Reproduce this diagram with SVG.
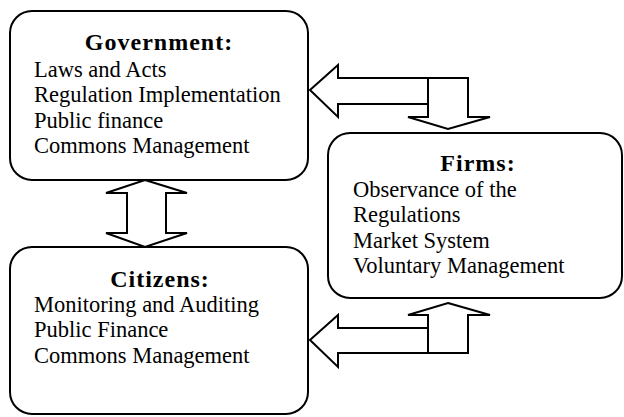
<svg xmlns="http://www.w3.org/2000/svg" width="624" height="417" viewBox="0 0 624 417">
  <style>
    .box { fill: #ffffff; stroke: #000000; stroke-width: 2; }
    .arrow { fill: #ffffff; stroke: #000000; stroke-width: 2; stroke-linejoin: miter; }
    .title { font-family: "Liberation Serif", "Times New Roman", serif; font-size: 24px; font-weight: bold; letter-spacing: 1px; text-anchor: middle; fill: #000000; }
    .item { font-family: "Liberation Serif", "Times New Roman", serif; font-size: 22.5px; fill: #000000; }
  </style>
  <rect width="624" height="417" fill="#ffffff"/>

  <!-- block arrows linking the three actors -->
  <g id="connectors">
    <!-- Government <-> Citizens -->
    <path class="arrow" d="M145,180 L187,193 L166,193 L166,233 L187,233 L145,247 L106,233 L127,233 L127,193 L106,193 Z"/>
    <!-- Firms -> Government (left) and Government -> Firms (down) -->
    <path class="arrow" d="M310,90 L338,65 L338,78 L428,78 L428,104 L338,104 L338,117 Z"/>
    <path class="arrow" d="M428,78 L468,78 L468,117 L490,117 L448,129 L408,117 L428,117 Z"/>
    <!-- Firms -> Citizens (left) and Citizens -> Firms (up) -->
    <path class="arrow" d="M310,340 L338,315 L338,328 L428,328 L428,353 L338,353 L338,367 Z"/>
    <path class="arrow" d="M448,303 L490,315 L468,315 L468,353 L428,353 L428,315 L408,315 Z"/>
  </g>

  <g id="government">
    <rect class="box" x="10" y="11" width="298" height="169" rx="22" ry="22"/>
    <text class="title" x="159" y="50">Government:</text>
    <text class="item" x="34" y="77">Laws and Acts</text>
    <text class="item" x="34" y="102">Regulation Implementation</text>
    <text class="item" x="34" y="128">Public finance</text>
    <text class="item" x="34" y="153">Commons Management</text>
  </g>

  <g id="citizens">
    <rect class="box" x="10" y="247" width="298" height="167" rx="22" ry="22"/>
    <text class="title" x="160" y="287">Citizens:</text>
    <text class="item" x="34" y="312">Monitoring and Auditing</text>
    <text class="item" x="34" y="337">Public Finance</text>
    <text class="item" x="34" y="363">Commons Management</text>
  </g>

  <g id="firms">
    <rect class="box" x="328" y="133" width="294" height="165" rx="22" ry="22"/>
    <text class="title" x="478" y="171">Firms:</text>
    <text class="item" x="353" y="197">Observance of the</text>
    <text class="item" x="353" y="222">Regulations</text>
    <text class="item" x="353" y="248">Market System</text>
    <text class="item" x="353" y="273">Voluntary Management</text>
  </g>
</svg>
